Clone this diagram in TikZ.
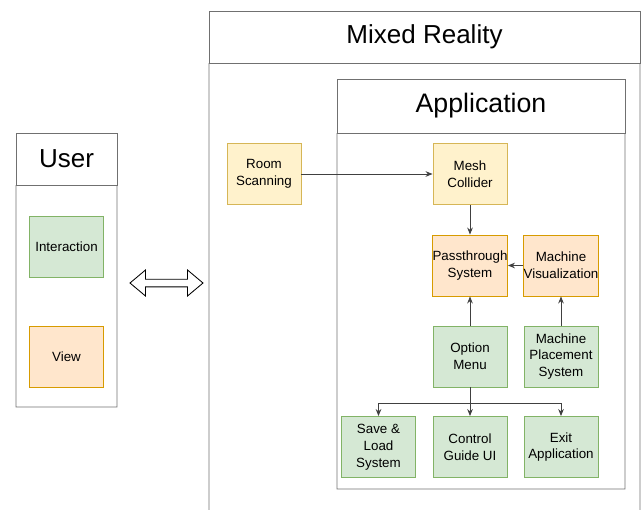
\documentclass[tikz,border=0pt]{standalone}
\usepackage{fontspec}
\setmainfont{Liberation Sans}
\usetikzlibrary{arrows.meta,shapes.arrows,shadows}

\definecolor{frame}{RGB}{112,112,112}
\definecolor{yelfill}{RGB}{255,242,204}
\definecolor{yelline}{RGB}{214,182,86}
\definecolor{orafill}{RGB}{255,230,204}
\definecolor{oraline}{RGB}{215,155,0}
\definecolor{grefill}{RGB}{213,232,212}
\definecolor{greline}{RGB}{130,179,102}

\begin{document}
\begin{tikzpicture}[x=0.025cm, y=-0.025cm,
  box/.style={draw, line width=0.6pt, minimum width=1.85cm, minimum height=1.525cm,
    inner sep=0pt, align=center, font=\fontsize{9.5}{12}\selectfont,
    drop shadow={opacity=0.2, shadow xshift=0.6pt, shadow yshift=-0.6pt}},
  scan/.style={box, fill=yelfill, draw=yelline},
  shown/.style={box, fill=orafill, draw=oraline},
  act/.style={box, fill=grefill, draw=greline},
  head/.style={draw=frame, line width=0.6pt, inner sep=0pt, outer sep=0pt, fill=white,
    font=\fontsize{18.5}{20}\selectfont},
  link/.style={draw=black!75, line width=0.6pt, -{Stealth[length=5pt, width=4pt]}}]

\useasboundingbox (0,0) rectangle (643,509);

% user side
\node [head, minimum width=2.525cm, minimum height=1.3cm] (user) at (66.5,159) {User};
\draw [frame, line width=0.6pt] (user.south west) -- (16,407) -- (117,407) -- (user.south east);
\node [act] (interact) at (66.5,246.5) {Interaction};
\node [shown] (view) at (66.5,357) {View};

% two way link
\node [double arrow, draw=black, line width=0.6pt, fill=white, minimum height=1.825cm,
  inner sep=0.085cm, double arrow head extend=0.23cm, double arrow tip angle=80] (link) at (166.5,283) {};

% mixed reality frame
\node [head, minimum width=10.775cm, minimum height=1.3cm] (mr) at (424.5,37) {Mixed Reality};
\draw [frame, line width=0.6pt] (mr.south west) -- (209,520);
\draw [frame, line width=0.6pt] (mr.south east) -- (640,520);

% application frame
\node [head, minimum width=7.2cm, minimum height=1.35cm, font=\fontsize{19}{20}\selectfont] (app) at (481,106) {Application};
\draw [frame, line width=0.6pt] (app.south west) -- (337,489) -- (625,489) -- (app.south east);

\node [scan] (room) at (264,174) {Room\\Scanning};
\node [scan] (mesh) at (470,174) {Mesh\\Collider};
\node [shown] (pass) at (470,265.5) {Passthrough\\System};
\node [shown] (vis) at (561,265.5) {Machine\\Visualization};
\node [act] (menu) at (470,356.5) {Option\\Menu};
\node [act] (place) at (561,356.5) {Machine\\Placement\\System};
\node [act] (save) at (378.5,447) {Save \&\\Load\\System};
\node [act] (guide) at (470,447) {Control\\Guide UI};
\node [act] (exit) at (561,447) {Exit\\Application};

\coordinate (split) at (470,403);

\draw [link] (room) -- (mesh);
\draw [link] (mesh) -- (pass);
\draw [link] (vis) -- (pass);
\draw [link] (menu) -- (pass);
\draw [link] (place) -- (vis);
\draw [link] (menu) -- (guide);
\draw [link] (split) -| (save);
\draw [link] (split) -| (exit);

\end{tikzpicture}
\end{document}
